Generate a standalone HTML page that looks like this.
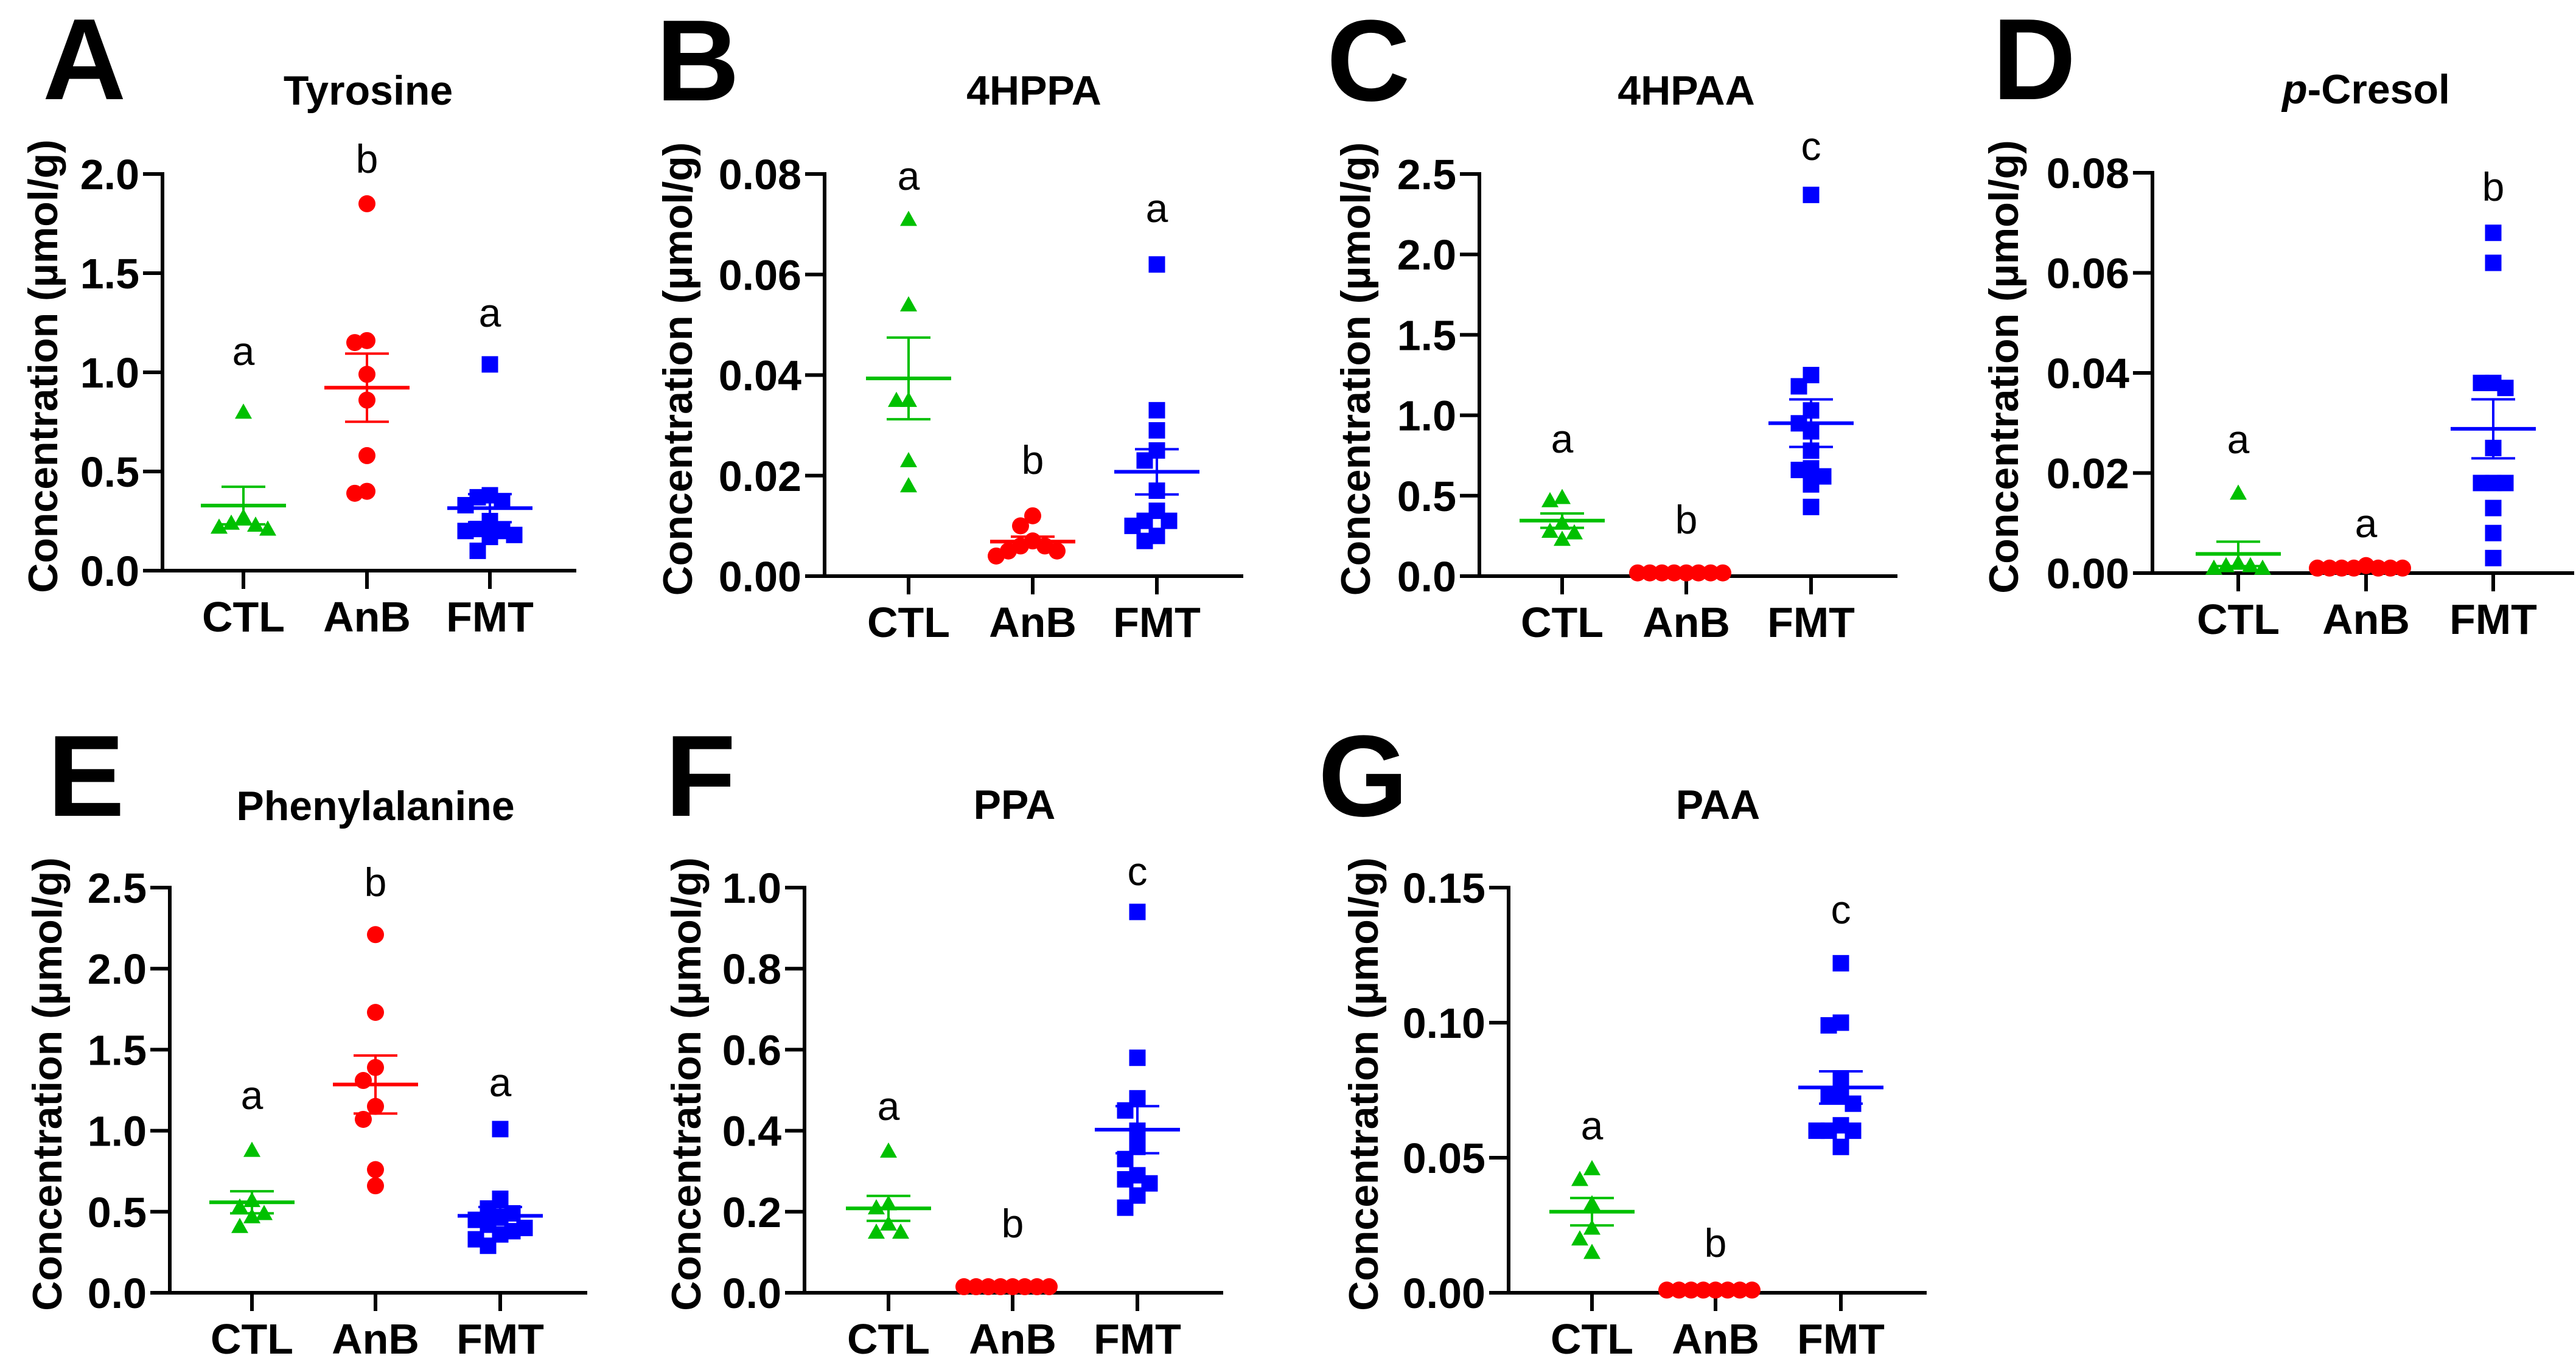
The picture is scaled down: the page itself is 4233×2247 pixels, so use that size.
<!DOCTYPE html>
<html><head><meta charset="utf-8"><style>
html,body{margin:0;padding:0;background:#fff;}
svg{display:block;font-family:"Liberation Sans",Arial,sans-serif;}
</style></head>
<body>
<svg id="fig" xmlns="http://www.w3.org/2000/svg" width="4233" height="2247" viewBox="0 0 4233 2247"></svg>
<script>
// ---- data (µmol/g) ----
const groups = ['CTL','AnB','FMT'];
const tyrosineCTL = [0.80,0.22,0.27,0.23,0.24,0.21];
const tyrosineAnB = [1.85,1.15,1.16,0.99,0.86,0.58,0.39,0.40];
const tyrosineFMT = [1.04,0.37,0.38,0.35,0.33,0.25,0.20,0.18,0.17,0.20,0.21,0.10];
const hppaCTL = [0.071,0.054,0.035,0.035,0.023,0.018];
const hppaAnB = [0.012,0.010,0.007,0.006,0.006,0.005,0.005,0.004];
const hppaFMT = [0.062,0.033,0.029,0.025,0.023,0.017,0.013,0.011,0.011,0.010,0.008,0.007];
const hpaaCTL = [0.49,0.47,0.33,0.28,0.27,0.23];
const hpaaAnB = [0.02,0.02,0.02,0.02,0.02,0.02,0.02,0.02];
const hpaaFMT = [2.37,1.25,1.18,1.03,0.95,0.90,0.78,0.67,0.66,0.62,0.57,0.43];
const cresolCTL = [0.016,0.0015,0.002,0.0015,0.001,0.001];
const cresolAnB = [0.0015,0.001,0.001,0.001,0.001,0.001,0.001,0.001];
const cresolFMT = [0.068,0.062,0.038,0.038,0.037,0.025,0.018,0.018,0.018,0.013,0.008,0.003];
const pheCTL = [0.88,0.53,0.57,0.49,0.47,0.41];
const pheAnB = [2.21,1.73,1.39,1.31,1.15,1.07,0.76,0.66];
const pheFMT = [1.01,0.58,0.52,0.49,0.47,0.45,0.42,0.40,0.38,0.36,0.33,0.29];
const ppaCTL = [0.35,0.22,0.21,0.17,0.15,0.15];
const ppaAnB = [0.015,0.015,0.015,0.015,0.015,0.015,0.015,0.015];
const ppaFMT = [0.94,0.58,0.48,0.45,0.40,0.36,0.33,0.29,0.28,0.27,0.24,0.21];
const paaCTL = [0.046,0.042,0.033,0.024,0.020,0.015];
const paaAnB = [0.001,0.001,0.001,0.001,0.001,0.001,0.001,0.001];
const paaFMT = [0.122,0.100,0.099,0.079,0.073,0.073,0.070,0.062,0.060,0.060,0.060,0.054];
// axis tick labels
const tyrosineTicks = ['0.0','0.5','1.0','1.5','2.0'];
const hppaTicks = ['0.00','0.02','0.04','0.06','0.08'];
const hpaaTicks = ['0.0','0.5','1.0','1.5','2.0','2.5'];
const cresolTicks = ['0.00','0.02','0.04','0.06','0.08'];
const pheTicks = ['0.0','0.5','1.0','1.5','2.0','2.5'];
const ppaTicks = ['0.0','0.2','0.4','0.6','0.8','1.0'];
const paaTicks = ['0.00','0.05','0.10','0.15'];
const tyrosineSig = ['a','b','a'];
const hppaSig = ['a','b','a'];
const hpaaSig = ['a','b','c'];
const cresolSig = ['a','a','b'];
const pheSig = ['a','b','a'];
const ppaSig = ['a','b','c'];
const paaSig = ['a','b','c'];

const panels = [
 {id:'a',letter:'A',title:'Tyrosine',data:[tyrosineCTL,tyrosineAnB,tyrosineFMT],ticks:tyrosineTicks,sig:tyrosineSig,
  ax:267,top:286,bot:938,end:947,cats:[400,603,805],lx:70,ly:163,tx:605,ty:172,ylx:70,sigY:[600,284,537]},
 {id:'b',letter:'B',title:'4HPPA',data:[hppaCTL,hppaAnB,hppaFMT],ticks:hppaTicks,sig:hppaSig,
  ax:1355,top:286,bot:947,end:2043,cats:[1493,1697,1901],lx:1078,ly:165,tx:1699,ty:172,ylx:1113,sigY:[312,779,365]},
 {id:'c',letter:'C',title:'4HPAA',data:[hpaaCTL,hpaaAnB,hpaaFMT],ticks:hpaaTicks,sig:hpaaSig,
  ax:2431,top:286,bot:947,end:3118,cats:[2567,2771,2976],lx:2180,ly:165,tx:2771,ty:172,ylx:2227,sigY:[744,877,263]},
 {id:'d',letter:'D',title:'-Cresol',italic:'p',data:[cresolCTL,cresolAnB,cresolFMT],ticks:cresolTicks,sig:cresolSig,
  ax:3537,top:284,bot:942,end:4230,cats:[3678,3888,4097],lx:3274,ly:163,tx:3888,ty:170,ylx:3292,sigY:[745,883,330]},
 {id:'e',letter:'E',title:'Phenylalanine',data:[pheCTL,pheAnB,pheFMT],ticks:pheTicks,sig:pheSig,
  ax:279,top:1459,bot:2125,end:965,cats:[414,617,822],lx:78,ly:1341,tx:617,ty:1348,ylx:77,sigY:[1823,1473,1802]},
 {id:'f',letter:'F',title:'PPA',data:[ppaCTL,ppaAnB,ppaFMT],ticks:ppaTicks,sig:ppaSig,
  ax:1322,top:1459,bot:2125,end:2010,cats:[1460,1664,1869],lx:1093,ly:1341,tx:1667,ty:1346,ylx:1127,sigY:[1841,2034,1455]},
 {id:'g',letter:'G',title:'PAA',data:[paaCTL,paaAnB,paaFMT],ticks:paaTicks,sig:paaSig,
  ax:2479,top:1459,bot:2125,end:3166,cats:[2616,2819,3025],lx:2166,ly:1341,tx:2823,ty:1346,ylx:2240,sigY:[1873,2066,1518]}
];
const colors = ['#00c000','#ff0000','#0000ff'];
const NS='http://www.w3.org/2000/svg';
const svg=document.getElementById('fig');
function mk(tag,attrs,parent){const e=document.createElementNS(NS,tag);for(const k in attrs)e.setAttribute(k,attrs[k]);(parent||svg).appendChild(e);return e;}

panels.forEach(p=>{
  const g=mk('g',{});
  
  
  const tmax=parseFloat(p.ticks[p.ticks.length-1]);
  const y=v=>p.bot-(v/tmax)*(p.bot-p.top);
  const L=mk('text',{x:p.lx,y:p.ly,'font-size':190,'font-weight':'bold',fill:'#000'},g);L.textContent=p.letter;
  
  
  const T=mk('text',{x:p.tx,y:p.ty,'font-size':68,'font-weight':'bold','text-anchor':'middle'},g);
  if(p.italic){const s=mk('tspan',{'font-style':'italic'},T);s.textContent=p.italic;const s2=mk('tspan',{},T);s2.textContent=p.title;}
  else T.textContent=p.title;
  
  
  const cy=(p.top+p.bot)/2-10;
  const Y=mk('text',{x:p.ylx+24,y:cy,'font-size':68,'font-weight':'bold','text-anchor':'middle',transform:`rotate(-90 ${p.ylx+24} ${cy})`},g);
  Y.textContent='Concentration (µmol/g)';
  
  
  const ya=mk('line',{x1:p.ax,y1:p.top-3,x2:p.ax,y2:p.bot+3,stroke:'#000','stroke-width':6},g);
  
  
  const xa=mk('line',{x1:p.ax-3,y1:p.bot,x2:p.end,y2:p.bot,stroke:'#000','stroke-width':6},g);
  
  
  p.ticks.forEach(t=>{
    const yy=y(parseFloat(t));
    mk('line',{x1:p.ax-32,y1:yy,x2:p.ax,y2:yy,stroke:'#000','stroke-width':6},g);
    const tl=mk('text',{x:p.ax-38,y:yy+25,'font-size':70,'font-weight':'bold','text-anchor':'end'},g);
    tl.textContent=t;
    
    
  });
  groups.forEach((gname,i)=>{
    const cx=p.cats[i];
    mk('line',{x1:cx,y1:p.bot,x2:cx,y2:p.bot+30,stroke:'#000','stroke-width':6},g);
    const cl=mk('text',{x:cx,y:p.bot+100,'font-size':70,'font-weight':'bold','text-anchor':'middle'},g);
    cl.textContent=gname;
    
    
    const sl=mk('text',{x:cx,y:p.sigY[i],'font-size':66,'text-anchor':'middle'},g);
    sl.textContent=p.sig[i];
    
    
    const vals=p.data[i];
    const order=vals.map((v,k)=>k).sort((a,b)=>vals[b]-vals[a]);
    const placed=[];const step=20,thrY=26;
    order.forEach(k=>{
      const py=y(vals[k]);let off=0;
      for(let n=0;n<40;n++){
        const o=n===0?0:(n%2?-1:1)*Math.ceil(n/2)*step;
        if(placed.every(q=>Math.abs(q[0]-o)>=step||Math.abs(q[1]-py)>=thrY)){off=o;break;}
      }
      placed.push([off,py]);
      const px=cx+off;let m;
      if(i===0) m=mk('polygon',{points:`${px},${py-14} ${px-14},${py+11} ${px+14},${py+11}`,fill:colors[i]},g);
      else if(i===1) m=mk('circle',{cx:px,cy:py,r:14,fill:colors[i]},g);
      else m=mk('rect',{x:px-13.5,y:py-13.5,width:27,height:27,fill:colors[i]},g);
      
      
    });
    const n=vals.length,mean=vals.reduce((a,b)=>a+b,0)/n;
    const sd=Math.sqrt(vals.reduce((a,b)=>a+(b-mean)*(b-mean),0)/(n-1));
    const sem=sd/Math.sqrt(n);
    const ym=y(mean),yt=y(mean+sem),yb=y(Math.max(0,mean-sem));
    const eb=mk('g',{stroke:colors[i]},g);
    
    
    mk('line',{x1:cx-70,y1:ym,x2:cx+70,y2:ym,'stroke-width':6},eb);
    mk('line',{x1:cx,y1:yt,x2:cx,y2:yb,'stroke-width':4},eb);
    mk('line',{x1:cx-36,y1:yt,x2:cx+36,y2:yt,'stroke-width':4},eb);
    mk('line',{x1:cx-36,y1:yb,x2:cx+36,y2:yb,'stroke-width':4},eb);
  });
});
</script>
</body></html>
